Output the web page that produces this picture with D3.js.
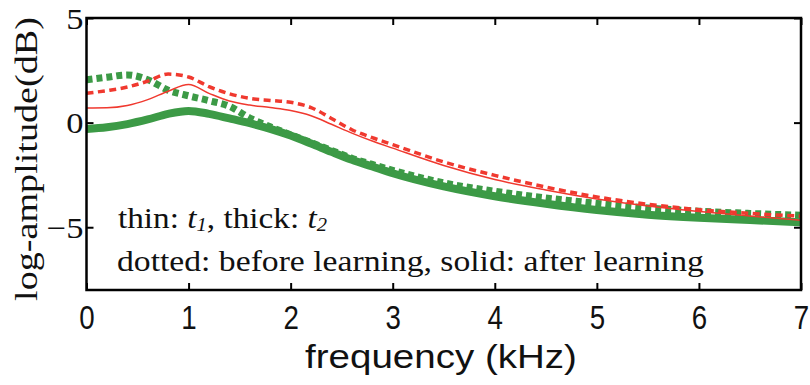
<!DOCTYPE html>
<html>
<head>
<meta charset="utf-8">
<script src="https://cdn.jsdelivr.net/npm/d3@7/dist/d3.min.js"></script>
<style>
  html, body { margin: 0; padding: 0; background: #fff; }
  svg { display: block; }
</style>
</head>
<body>
<svg id="chart" width="810" height="385"></svg>
<script>
// frequency grid (kHz), shared by the four curves
const freq = [0, 0.2, 0.4, 0.6, 0.8, 1.0, 1.2, 1.4, 1.6, 1.8, 2.0, 2.2, 2.4, 2.6, 2.8, 3.0, 3.5, 4.0, 4.5, 5.0, 5.5, 6.0, 6.5, 7.0];

// t1 after learning (thin red solid)
const t1After  = [0.70, 0.71, 0.82, 1.10, 1.50, 1.82, 1.40, 1.03, 0.84, 0.72, 0.58, 0.33, -0.08, -0.50, -0.88, -1.22, -2.05, -2.72, -3.22, -3.65, -3.99, -4.25, -4.46, -4.67];
// t1 before learning (red dotted)
const t1Before = [1.40, 1.53, 1.70, 1.98, 2.32, 2.18, 1.72, 1.38, 1.16, 1.06, 0.97, 0.72, 0.20, -0.34, -0.72, -1.05, -1.88, -2.52, -3.08, -3.55, -3.90, -4.16, -4.34, -4.47];
// t2 after learning (thick green solid)
const t2After  = [-0.30, -0.22, -0.07, 0.15, 0.42, 0.56, 0.42, 0.20, -0.03, -0.30, -0.62, -1.00, -1.40, -1.78, -2.10, -2.42, -3.05, -3.52, -3.88, -4.18, -4.40, -4.55, -4.66, -4.76];
// t2 before learning (thick green dotted)
const t2Before = [2.05, 2.17, 2.28, 2.05, 1.55, 1.28, 1.05, 0.78, 0.22, -0.20, -0.58, -0.95, -1.33, -1.70, -2.00, -2.28, -2.88, -3.28, -3.60, -3.86, -4.08, -4.23, -4.34, -4.43];

const xTicks = [0, 1, 2, 3, 4, 5, 6, 7];
const yTicks = [5, 0, -5];

const red = "#f0392f";
const green = "#3c9a46";
const sans = "'Liberation Sans', Arial, Helvetica, sans-serif";
const serif = "'Liberation Serif', 'Times New Roman', Times, serif";

const svg = d3.select("#chart");
const plotLeft = 86.5, plotRight = 801, plotTop = 18, plotBottom = 290;

const x = d3.scaleLinear().domain([0, 7]).range([plotLeft, plotRight]);
const y = d3.scaleLinear().domain([-8, 5]).range([plotBottom, plotTop]);

// clip the curves to the frame
svg.append("defs").append("clipPath").attr("id", "plotClip")
  .append("rect")
  .attr("x", plotLeft).attr("y", plotTop)
  .attr("width", plotRight - plotLeft).attr("height", plotBottom - plotTop);

const line = d3.line()
  .x(d => x(d[0]))
  .y(d => y(d[1]))
  .curve(d3.curveMonotoneX);

const series = [
  { values: t2After,  color: green, width: 8,   dash: null },
  { values: t2Before, color: green, width: 7,   dash: "6,4" },
  { values: t1Before, color: red,   width: 3.5, dash: "7,4.5" },
  { values: t1After,  color: red,   width: 1.5, dash: null }
];

const plot = svg.append("g").attr("clip-path", "url(#plotClip)");
series.forEach(s => {
  plot.append("path")
    .datum(freq.map((f, i) => [f, s.values[i]]))
    .attr("d", line)
    .attr("fill", "none")
    .attr("stroke", s.color)
    .attr("stroke-width", s.width)
    .attr("stroke-dasharray", s.dash);
});

// axes: ticks point inwards on all four sides
const tickLen = 7;

const xAxis = svg.append("g")
  .attr("transform", `translate(0,${plotBottom})`)
  .call(d3.axisBottom(x).tickValues(xTicks).tickFormat(d3.format("d"))
    .tickSizeInner(-tickLen).tickSizeOuter(0).tickPadding(0));
xAxis.attr("font-family", sans);
xAxis.selectAll("text")
  .attr("dy", null)
  .attr("y", 0)
  .attr("transform", "translate(0,39) scale(0.84,1)")
  .style("font-family", sans)
  .attr("font-size", 33)
  .attr("fill", "#111");

svg.append("g")
  .attr("transform", `translate(0,${plotTop})`)
  .call(d3.axisTop(x).tickValues(xTicks).tickSizeInner(-tickLen).tickSizeOuter(0).tickFormat(""));

const yAxis = svg.append("g")
  .attr("transform", `translate(${plotLeft},0)`)
  .call(d3.axisLeft(y).tickValues(yTicks).tickSizeInner(-tickLen).tickSizeOuter(0).tickPadding(0)
    .tickFormat(d => d < 0 ? "\u2212" + Math.abs(d) : d));
yAxis.attr("font-family", serif);
yAxis.selectAll("text")
  .attr("dy", null)
  .attr("x", 0)
  .attr("transform", "translate(-3,10) scale(1.15,1)")
  .style("font-family", serif)
  .attr("font-size", 30)
  .attr("fill", "#111");

svg.append("g")
  .attr("transform", `translate(${plotRight},0)`)
  .call(d3.axisRight(y).tickValues(yTicks).tickSizeInner(-tickLen).tickSizeOuter(0).tickFormat(""));

svg.selectAll(".domain").remove();
svg.selectAll(".tick line").attr("stroke", "#000").attr("stroke-width", 2);

// frame
svg.append("rect")
  .attr("x", plotLeft).attr("y", plotTop)
  .attr("width", plotRight - plotLeft).attr("height", plotBottom - plotTop)
  .attr("fill", "none")
  .attr("stroke", "#000")
  .attr("stroke-width", 2.5);

// stretch a text element along its reading direction to a given length
function stretchTo(text, length) {
  const w = text.node().getBBox().width;
  text.attr("transform", `scale(${length / w},1)`);
}

// axis titles
const xTitle = svg.append("g").attr("transform", "translate(441,368)")
  .append("text")
  .attr("text-anchor", "middle")
  .style("font-family", sans)
  .attr("font-size", 33)
  .attr("fill", "#111")
  .text("frequency (kHz)");
stretchTo(xTitle, 272);

const yTitle = svg.append("g").attr("transform", "translate(37,159) rotate(-90)")
  .append("text")
  .attr("text-anchor", "middle")
  .style("font-family", serif)
  .attr("font-size", 32)
  .attr("fill", "#111")
  .text("log-amplitude(dB)");
stretchTo(yTitle, 284);

// legend note
const note1 = svg.append("g").attr("transform", "translate(118,228)")
  .append("text")
  .style("font-family", serif)
  .attr("font-size", 29)
  .attr("fill", "#111");
note1.append("tspan").text("thin: ");
note1.append("tspan").attr("font-style", "italic").text("t");
note1.append("tspan").attr("font-style", "italic").attr("font-size", 18).attr("dy", 3).text("1");
note1.append("tspan").attr("dy", -3).text(", thick: ");
note1.append("tspan").attr("font-style", "italic").text("t");
note1.append("tspan").attr("font-style", "italic").attr("font-size", 18).attr("dy", 3).text("2");
stretchTo(note1, 209);

const note2 = svg.append("g").attr("transform", "translate(117,271)")
  .append("text")
  .style("font-family", serif)
  .attr("font-size", 29)
  .attr("fill", "#111")
  .text("dotted: before learning, solid: after learning");
stretchTo(note2, 587);
</script>
</body>
</html>
